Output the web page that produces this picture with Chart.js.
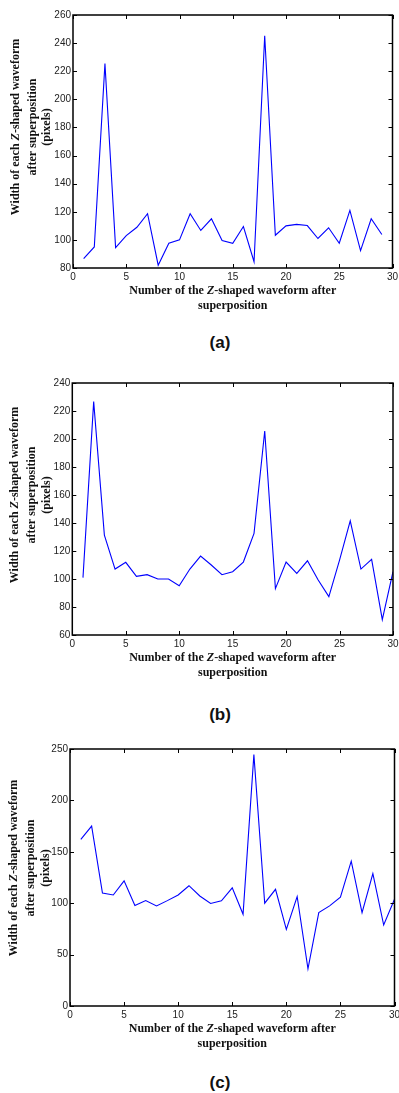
<!DOCTYPE html>
<html>
<head>
<meta charset="utf-8">
<script src="https://cdn.jsdelivr.net/npm/chart.js@4"></script>
<style>
  body { margin: 0; width: 399px; height: 1093px; overflow: hidden; background: #fff; position: relative; }
  canvas { position: absolute; left: 0; }
  .tag { position: absolute; width: 60px; left: 190px; text-align: center; font: bold 17px "Liberation Sans", Arial, sans-serif; color: #111; line-height: 20px; }
</style>
</head>
<body>
<canvas id="chartA" width="410" height="320"></canvas>
<canvas id="chartB" width="410" height="322"></canvas>
<canvas id="chartC" width="410" height="325"></canvas>
<div class="tag" style="top:333px">(a)</div>
<div class="tag" style="top:705px">(b)</div>
<div class="tag" style="top:1073px">(c)</div>
<script>
// waveform number (x) and measured width in pixels (y) for each panel
const numA = [1,2,3,4,5,6,7,8,9,10,11,12,13,14,15,16,17,18,19,20,21,22,23,24,25,26,27,28,29]
const widthA = [86.7,95,225.4,94.5,103,109,118.6,82,97.6,100,118.6,106.7,115,99.5,97.6,109.5,84.5,245.2,103.3,110,111,110.2,101,108.6,97.6,121,92.4,115,103.8]

const numBC = [1,2,3,4,5,6,7,8,9,10,11,12,13,14,15,16,17,18,19,20,21,22,23,24,25,26,27,28,29,30]
const widthB = [101,226.7,131.4,107.1,111.9,101.9,103.1,100,100,95.2,107.1,116.4,110,103.1,105.2,112.1,132.6,205.7,93.1,112.1,104,113,99.3,87.4,113.5,141.5,107.1,114,71,105.2]
const widthC = [162,175,109.8,108,121.7,97.7,102.6,97.4,102.5,108,117,107,99.7,102.3,115,89.2,244.5,100,113.5,74.6,106.5,36.2,90.9,97.4,105.9,140.9,90.9,128.8,78.8,103.9]

const xTicks = [0,5,10,15,20,25,30]
const yTitle = [['Width of each ', 'Z', '-shaped waveform'], ['after superposition'], ['(pixels)']]
const xTitle = [['Number of the ', 'Z', '-shaped waveform after'], ['superposition']]

// draws a line of text where every odd part is italic (the Z)
function drawParts(ctx, parts, cx, cy) {
  const normal = 'bold 12px "Liberation Serif", "Times New Roman", serif'
  const italic = 'italic bold 12px "Liberation Serif", "Times New Roman", serif'
  let total = 0
  parts.forEach((p, i) => { ctx.font = i % 2 ? italic : normal; total += ctx.measureText(p).width })
  let x = cx - total / 2
  ctx.textAlign = 'left'
  ctx.textBaseline = 'middle'
  parts.forEach((p, i) => {
    ctx.font = i % 2 ? italic : normal
    ctx.fillText(p, x, cy)
    x += ctx.measureText(p).width
  })
}

// matlab style box with inward ticks plus axis titles
const matlabAxes = {
  id: 'matlabAxes',
  afterDatasetsDraw(chart, args, opts) {
    const { ctx, chartArea: a, scales } = chart
    ctx.save()
    ctx.strokeStyle = '#000'
    ctx.lineWidth = 1.5
    ctx.strokeRect(a.left, a.top, a.right - a.left, a.bottom - a.top)
    ctx.lineWidth = 1
    ctx.beginPath()
    scales.x.ticks.forEach(t => {
      const px = Math.round(scales.x.getPixelForValue(t.value)) + 0.5
      ctx.moveTo(px, a.bottom); ctx.lineTo(px, a.bottom - 4)
      ctx.moveTo(px, a.top); ctx.lineTo(px, a.top + 4)
    })
    scales.y.ticks.forEach(t => {
      const py = Math.round(scales.y.getPixelForValue(t.value)) + 0.5
      ctx.moveTo(a.left, py); ctx.lineTo(a.left + 4, py)
      ctx.moveTo(a.right, py); ctx.lineTo(a.right - 4, py)
    })
    ctx.stroke()

    ctx.fillStyle = '#111'
    const cx = (a.left + a.right) / 2
    drawParts(ctx, xTitle[0], cx, a.bottom + 23)
    drawParts(ctx, xTitle[1], cx, a.bottom + 38)

    yTitle.forEach((line, i) => {
      ctx.save()
      ctx.translate(opts.titleX[i], opts.titleY)
      ctx.rotate(-Math.PI / 2)
      drawParts(ctx, line, 0, 0)
      ctx.restore()
    })
    ctx.restore()
  }
}

function makeChart(id, pageTop, p, nums, values, yMin, yMax, yStep) {
  const el = document.getElementById(id)
  el.style.top = pageTop + 'px'
  const h = el.height
  const xh = 20
  return new Chart(el, {
    type: 'line',
    data: {
      labels: nums,
      datasets: [{
        data: nums.map((n, i) => ({ x: n, y: values[i] })),
        borderColor: '#0000ff',
        borderWidth: 1.1,
        pointRadius: 0,
        tension: 0,
        fill: false
      }]
    },
    options: {
      responsive: false,
      animation: false,
      devicePixelRatio: 1,
      layout: {
        padding: { top: p.top - pageTop, left: 0, right: 410 - p.right, bottom: h - (p.bottom - pageTop) - xh }
      },
      plugins: {
        legend: { display: false },
        tooltip: { enabled: false },
        matlabAxes: { titleX: p.titleX, titleY: p.titleY - pageTop }
      },
      scales: {
        x: {
          type: 'linear', min: 0, max: 30,
          afterBuildTicks: s => { s.ticks = xTicks.map(v => ({ value: v })) },
          afterFit: s => { s.height = xh },
          grid: { display: false, drawTicks: false },
          border: { display: false },
          ticks: { padding: 3, maxRotation: 0, color: '#222', font: { family: '"Liberation Sans", Arial, sans-serif', size: 10 } }
        },
        y: {
          min: yMin, max: yMax,
          afterFit: s => { s.width = p.left },
          grid: { display: false, drawTicks: false },
          border: { display: false },
          ticks: { stepSize: yStep, padding: 2, color: '#222', font: { family: '"Liberation Sans", Arial, sans-serif', size: 10 } }
        }
      }
    },
    plugins: [matlabAxes]
  })
}

makeChart('chartA', 0, { top: 15, bottom: 268, left: 73, right: 392.5, titleX: [16, 32.5, 47], titleY: 127 }, numA, widthA, 80, 260, 20)
makeChart('chartB', 368, { top: 383, bottom: 635, left: 72.3, right: 393, titleX: [15, 31.5, 46.5], titleY: 495 }, numBC, widthB, 60, 240, 20)
makeChart('chartC', 734, { top: 749, bottom: 1006, left: 70, right: 394.5, titleX: [13.5, 31, 45.5], titleY: 868 }, numBC, widthC, 0, 250, 50)
</script>
</body>
</html>
